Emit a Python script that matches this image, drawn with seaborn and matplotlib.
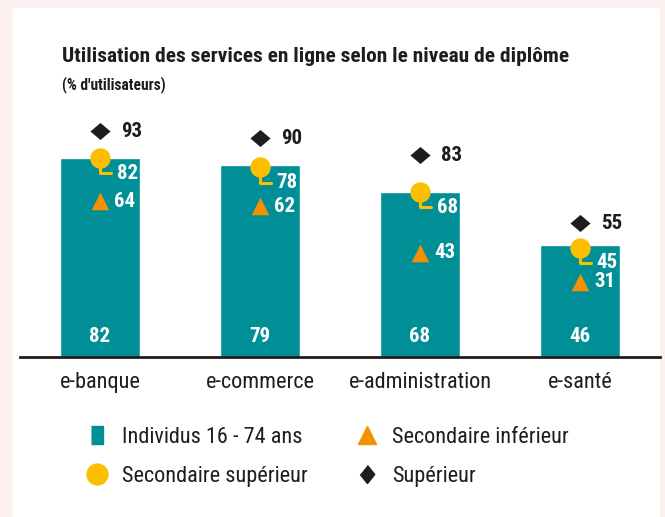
import numpy as np
import pandas as pd
import matplotlib
matplotlib.use("Agg")
import matplotlib.pyplot as plt
from matplotlib import font_manager
from matplotlib.lines import Line2D
from matplotlib.patches import Rectangle
import seaborn as sns

# ---- data ----
categories = ["e-banque", "e-commerce", "e-administration", "e-santé"]
individus = [82, 79, 68, 46]
sec_superieur = [82, 78, 68, 45]
sec_inferieur = [64, 62, 43, 31]
superieur = [93, 90, 83, 55]
legend_labels = ["Individus 16 - 74 ans", "Secondaire supérieur",
                 "Secondaire inférieur", "Supérieur"]
title = "Utilisation des services en ligne selon le niveau de diplôme"
subtitle = "(% d'utilisateurs)"

# ---- style ----
sns.set_theme(style="white")
names = {f.name for f in font_manager.fontManager.ttflist}
FONT = None
for cand in ["Liberation Sans Narrow", "Roboto Condensed", "Open Sans Condensed", "Liberation Sans"]:
    if cand in names:
        FONT = cand
        break
plt.rcParams["font.family"] = [FONT, "DejaVu Sans"] if FONT else ["DejaVu Sans"]

TEAL = "#008F96"
YELLOW = "#FDBE00"
ORANGE = "#F39200"
BLACK = "#1D1D1B"
PINK = "#FDF0F1"

diamond = [(0, 0.85), (1, 0), (0, -0.85), (-1, 0)]
diamond_leg = [(0, 1), (0.8, 0), (0, -1), (-0.8, 0)]
rect = [(-0.7, -1), (0.7, -1), (0.7, 1), (-0.7, 1)]

fig = plt.figure(figsize=(6.65, 5.17), dpi=100)
fig.patch.set_facecolor(PINK)
fig.patches.append(Rectangle((13 / 665, 0), 647 / 665, 509 / 517,
                             transform=fig.transFigure, facecolor="white",
                             edgecolor="none", zorder=-10))

ax = fig.add_axes([20 / 665, 160 / 517, 640 / 665, 243 / 517])
ax.set_zorder(2)
ax.set_facecolor("none")

df = pd.DataFrame({"cat": categories, "val": individus})
sns.barplot(data=df, x="cat", y="val", color=TEAL, width=0.5,
            saturation=1, ax=ax, zorder=2)
pos = np.arange(len(categories))
sns.scatterplot(x=pos, y=superieur, marker=diamond, s=210, color=BLACK,
                linewidth=0, ax=ax, zorder=5)
sns.scatterplot(x=pos, y=sec_inferieur, marker="^", s=160, color=ORANGE,
                linewidth=0, ax=ax, zorder=5)
sns.scatterplot(x=pos, y=sec_superieur, marker="o", s=215, color=YELLOW,
                linewidth=0, ax=ax, zorder=6)

FS = 15
lab_kw = dict(fontsize=FS, fontweight="bold", va="center", ha="left",
              textcoords="offset points")
for i in range(len(categories)):
    # bar value
    ax.annotate(str(individus[i]), xy=(i, 0), xytext=(0, 15),
                textcoords="offset points", ha="center", va="center",
                fontsize=FS, fontweight="bold", color="white", zorder=7)
    # superieur
    ax.annotate(str(superieur[i]), xy=(i, superieur[i]), xytext=(15, 0),
                color=BLACK, zorder=7, **lab_kw)
    # secondaire inferieur
    ax.annotate(str(sec_inferieur[i]), xy=(i, sec_inferieur[i]), xytext=(10, 0),
                color="white" if sec_inferieur[i] < individus[i] else BLACK,
                zorder=7, **lab_kw)
    # secondaire superieur with leader line
    ax.annotate(str(sec_superieur[i]), xy=(i, sec_superieur[i]), xytext=(12, -11),
                color="white" if sec_superieur[i] - 5 < individus[i] else BLACK,
                zorder=7,
                arrowprops=dict(arrowstyle="-", color=YELLOW, lw=2.2,
                                connectionstyle="angle,angleA=0,angleB=90,rad=0",
                                relpos=(0, 0.5), shrinkA=1.5, shrinkB=0),
                **lab_kw)

ax.set_xlim(-0.5, 3.5)
ax.set_ylim(0, 100)
ax.set_xlabel("")
ax.set_ylabel("")
ax.set_yticks([])
for s in ["top", "left", "right"]:
    ax.spines[s].set_visible(False)
ax.spines["bottom"].set_color(BLACK)
ax.spines["bottom"].set_linewidth(2)
ax.spines["bottom"].set_zorder(3)
ax.tick_params(axis="x", length=0, pad=11, labelsize=16, labelcolor=BLACK)
if ax.get_legend():
    ax.get_legend().remove()

fig.text(62 / 665, 1 - 57 / 517, title, fontsize=15.4, fontweight="bold",
         color=BLACK, va="center", ha="left")
fig.text(62 / 665, 1 - 85 / 517, subtitle, fontsize=11.2, fontweight="bold",
         color=BLACK, va="center", ha="left")

handles = [
    Line2D([], [], linestyle="none", marker=rect, markersize=13, color=TEAL),
    Line2D([], [], linestyle="none", marker="o", markersize=15, color=YELLOW),
    Line2D([], [], linestyle="none", marker="^", markersize=13, color=ORANGE),
    Line2D([], [], linestyle="none", marker=diamond_leg, markersize=13, color=BLACK),
]
fig.legend(handles, legend_labels, ncol=2, loc="upper left",
           bbox_to_anchor=(86 / 665, 1 - 427 / 517), frameon=False,
           fontsize=16, handlelength=1.0, handletextpad=0.6,
           columnspacing=2.2, labelspacing=0.82, borderaxespad=0,
           borderpad=0, labelcolor=BLACK)

fig.savefig("out.png", dpi=100, facecolor=fig.get_facecolor())
